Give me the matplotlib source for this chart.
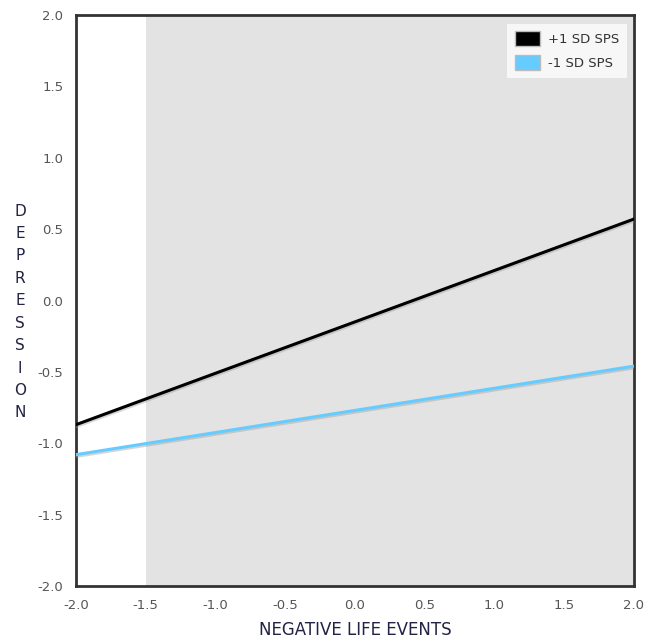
import numpy as np
import matplotlib.pyplot as plt
from matplotlib import patheffects as pe
from matplotlib.patches import Patch

# data
x_ends = [-2.0, 2.0]
high_sps = [-0.87, 0.57]   # +1 SD SPS
low_sps = [-1.08, -0.46]   # -1 SD SPS
region_start = -1.5
ticks = [-2.0, -1.5, -1.0, -0.5, 0.0, 0.5, 1.0, 1.5, 2.0]

fig = plt.figure(figsize=(6.46, 6.41), dpi=100)
ax = fig.add_axes([0.1176, 0.0858, 0.981 - 0.1176, 0.9766 - 0.0858])

ax.axvspan(region_start, 2.0, color="#e3e3e3", lw=0, zorder=0)

shadow = [pe.SimpleLineShadow(offset=(0.5, -1.2), shadow_color="#999999", alpha=0.4), pe.Normal()]
ax.plot(x_ends, high_sps, color="black", lw=2.2, path_effects=shadow, zorder=3)
ax.plot(x_ends, low_sps, color="#66ccff", lw=2.2, path_effects=shadow, zorder=3)

ax.set_xlim(-2, 2)
ax.set_ylim(-2, 2)
ax.set_xticks(ticks)
ax.set_yticks(ticks)
ax.set_xticklabels([f"{t:.1f}" for t in ticks])
ax.set_yticklabels([f"{t:.1f}" for t in ticks])
ax.tick_params(length=0, labelsize=9.5, colors="#555555", pad=9)
for s in ax.spines.values():
    s.set_color("#333333")
    s.set_linewidth(2)

ax.set_xlabel("NEGATIVE LIFE EVENTS", fontsize=12, color="#222244", labelpad=7)
fig.text(0.031, 1 - 312 / 641, "\n".join("DEPRESSION"), fontsize=11, color="#222244",
         ha="center", va="center", linespacing=1.62)

handles = [Patch(facecolor="black", edgecolor="#bbbbbb", lw=1),
           Patch(facecolor="#66ccff", edgecolor="#bbbbbb", lw=1)]
leg = ax.legend(handles, ["+1 SD SPS", "-1 SD SPS"], loc="upper right",
                bbox_to_anchor=(0.988, 0.985), fontsize=9.5, frameon=True,
                fancybox=False, handlelength=1.9, handleheight=1.35,
                handletextpad=0.6, labelspacing=0.65, borderpad=0.6,
                borderaxespad=0)
leg.get_frame().set_facecolor("#f7f7f7")
leg.get_frame().set_edgecolor("none")
leg.get_frame().set_alpha(1)
for t in leg.get_texts():
    t.set_color("#333333")

fig.savefig("out.png", dpi=100)
